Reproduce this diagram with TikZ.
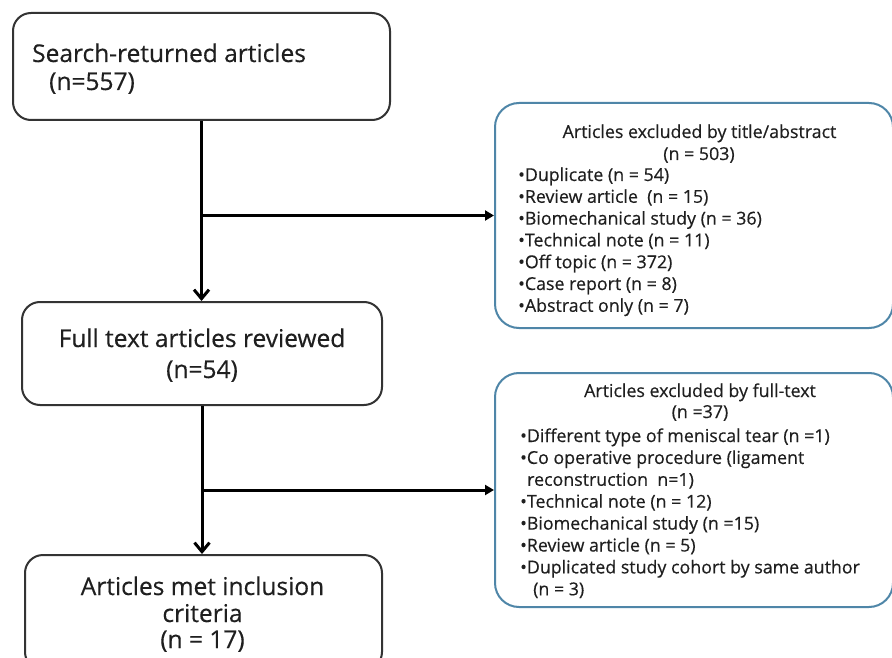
\documentclass[tikz,border=0pt]{standalone}
\usepackage{fontspec}
\setmainfont{Open Sans}
\newfontfamily\boxfont[FakeBold=0.4]{Open Sans}
\usetikzlibrary{arrows.meta}
\definecolor{boxline}{HTML}{333333}
\definecolor{blueline}{HTML}{4F86A8}
\definecolor{txt}{HTML}{1F1F1F}
\begin{document}
\begin{tikzpicture}[x=1pt,y=-1pt,
  lbox/.style={draw=boxline, line width=2pt, rounded corners=18pt, fill=white, inner sep=0pt},
  rbox/.style={draw=blueline, line width=2pt, rounded corners=24pt, fill=white, inner sep=0pt},
  ltxt/.style={font=\boxfont\fontsize{24.5}{30}\selectfont, text=txt, inner sep=0pt},
  rtxt/.style={font=\boxfont\fontsize{17.8}{21.8}\selectfont, text=txt, inner sep=0pt},
  varrow/.style={line width=3pt, -{Straight Barb[length=9pt,width=15pt]}},
  harrow/.style={line width=3pt, -{Triangle[length=9pt,width=10pt]}}]
\useasboundingbox (0,0) rectangle (892,658);
\fill[white] (0,0) rectangle (892,658);
% boxes
\node[lbox, minimum width=377pt, minimum height=107pt] (a) at (201.5,66.5) {};
\node[lbox, minimum width=360pt, minimum height=103pt] (b) at (202,353.5) {};
\node[lbox, minimum width=357pt, minimum height=115pt] (c) at (203.5,612.5) {};
\node[rbox, minimum width=398pt, minimum height=225pt] (r1) at (694,215.5) {};
\node[rbox, minimum width=398pt, minimum height=234pt] (r2) at (694,490) {};
% connectors
\draw[varrow] (a.south) -- (a.south |- b.north);
\draw[harrow] (a.south |- r1.west) -- (r1.west);
\draw[varrow] (b.south) -- (b.south |- c.north);
\draw[harrow] (b.south |- r2.west) -- (r2.west);
% left texts
\node[ltxt, anchor=base west] (a1) at (32,62) {Search-returned articles};
\node[ltxt, anchor=base west] (a2) at (49,90) {(n=557)};
\node[ltxt, anchor=base] (b1) at (202,347) {Full text articles reviewed};
\node[ltxt, anchor=base] (b2) at (202,378) {(n=54)};
\node[ltxt, anchor=base] (c1) at (202.5,595) {Articles met inclusion};
\node[ltxt, anchor=base] (c2) at (202.5,622) {criteria};
\node[ltxt, anchor=base] (c3) at (202.5,648) {(n = 17)};
% right box 1
\node[rtxt, anchor=base] (t1) at (699.5,138) {Articles excluded by title/abstract};
\node[rtxt, anchor=base] (t2) at (699,160) {(n = 503)};
\foreach \s [count=\i from 0] in {{•Duplicate (n = 54)},{•Review article~ (n = 15)},{•Biomechanical study (n = 36)},{•Technical note (n = 11)},{•Off topic (n = 372)},{•Case report (n = 8)},{•Abstract only (n = 7)}}
  \node[rtxt, anchor=base west] (p\i) at (518,181+21.8*\i) {\s};
% right box 2
\node[rtxt, anchor=base] (u1) at (700,397) {Articles excluded by full-text};
\node[rtxt, anchor=base] (u2) at (700,418) {(n =37)};
\foreach \s [count=\i from 0] in {{•Different type of meniscal tear (n =1)},{•Co operative procedure (ligament},{\hspace*{7pt}reconstruction~ n=1)},{•Technical note (n = 12)},{•Biomechanical study (n =15)},{•Review article (n = 5)},{•Duplicated study cohort by same author},{\hspace*{13pt}(n = 3)}}
  \node[rtxt, anchor=base west] (q\i) at (520,442+21.9*\i) {\s};
\end{tikzpicture}
\end{document}
